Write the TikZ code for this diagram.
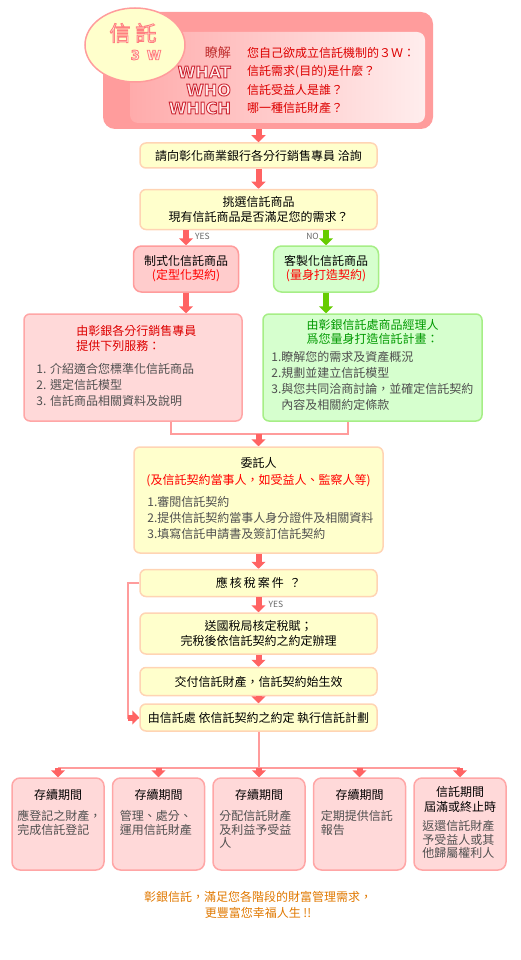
\documentclass[tikz,border=0pt]{standalone}
\usepackage{fontspec}
\setmainfont{Noto Sans CJK TC}
\newfontfamily\wordfont{DejaVu Sans}
\usepackage{xcolor}
\usetikzlibrary{arrows.meta, positioning, shapes.geometric, calc}
\definecolor{salmon}{HTML}{FF9C9C}
\definecolor{panelleft}{HTML}{FFABAB}
\definecolor{panelright}{HTML}{FFEDED}
\definecolor{rosefill}{HTML}{FFD9D9}
\definecolor{rosesolid}{HTML}{FFCCCC}
\definecolor{roseline}{HTML}{FFA6A6}
\definecolor{creamfill}{HTML}{FFFFCC}
\definecolor{creamline}{HTML}{FFD4B4}
\definecolor{mintfill}{HTML}{D6FFCE}
\definecolor{mintline}{HTML}{A6EE86}
\definecolor{arrowred}{HTML}{FF6363}
\definecolor{arrowgreen}{HTML}{66CC00}
\definecolor{textgray}{HTML}{505050}
\definecolor{tagray}{HTML}{666666}
\definecolor{alertred}{HTML}{FF0000}
\definecolor{headred}{HTML}{DD0000}
\definecolor{keyred}{HTML}{C03030}
\definecolor{headgreen}{HTML}{009900}
\definecolor{footorange}{HTML}{E07800}
% hollow (outlined) lettering: fill colour, stroke colour, text
\newcommand{\hollowtext}[3]{\special{pdf:literal direct #1 rg #2 RG 2 Tr 0.9 w}#3\special{pdf:literal direct 0 Tr}}
\tikzset{
  font=\fontsize{12}{14.5}\selectfont,
  baseblock/.style={
    rectangle, rounded corners=6pt, line width=1.5pt,
    inner sep=2pt, align=center
  },
  creambox/.style={baseblock, draw=creamline, fill=creamfill, minimum width=237pt},
  rosebox/.style={baseblock, draw=roseline, fill=rosefill},
  mintbox/.style={baseblock, draw=mintline, fill=mintfill},
  w3box/.style={rectangle, rounded corners=12pt, fill=salmon, inner sep=0pt,
    minimum width=330pt, minimum height=117pt},
  w3inner/.style={rectangle, rounded corners=8pt, left color=panelleft, right color=panelright,
    inner sep=0pt, minimum width=295pt, minimum height=91pt},
  badge/.style={ellipse, draw=salmon, fill=creamfill, line width=1.5pt, inner sep=0pt,
    minimum width=100pt, minimum height=74pt},
  w3word/.style={inner sep=0pt, font=\wordfont\bfseries\fontsize{16}{16}\selectfont},
  w3key/.style={inner sep=0pt, text=keyred, font=\fontsize{13}{14}\selectfont},
  w3ask/.style={inner sep=0pt, text=headred},
  listtext/.style={inner sep=0pt, align=left, text=textgray, font=\fontsize{12}{16}\selectfont},
  boxtitle/.style={inner sep=0pt, align=center},
  bodytext/.style={inner sep=0pt, align=left, text=textgray, font=\fontsize{12}{13.5}\selectfont},
  tag/.style={inner sep=0pt, text=tagray, font=\fontsize{8.5}{10}\selectfont},
  fatarrow/.style={draw=arrowred, line width=6pt, -{Triangle[length=7pt, width=14pt]}},
  greenarrow/.style={fatarrow, draw=arrowgreen},
  joinline/.style={draw=salmon, line width=2pt}
}
\begin{document}
\begin{tikzpicture}[x=1pt, y=-1pt]
  \useasboundingbox (0,0) rectangle (520,960);

  % Header: the 3W panel
  \node[w3box] (w3) at (268,70.5) {};
  \node[w3inner] (w3panel) at (277.5,77.5) {};
  \node[badge] (badge) at (135,45) {};
  \node[inner sep=0pt, font=\fontsize{21}{21}\selectfont] (badgetrust) at (133,33)
    {\hollowtext{1 0.96 0.9}{1 0.5 0.5}{信\hspace{5pt}託}};
  \node[inner sep=0pt, font=\wordfont\bfseries\fontsize{13}{13}\selectfont] (badgew) at (146,55)
    {\hollowtext{1 0.96 0.9}{1 0.5 0.5}{3\hspace{7pt}W}};

  \node[w3key, anchor=east] (knowkey) at (231,53) {瞭解};
  \node[w3word, anchor=east] (whatkey) at (231,72) {\hollowtext{1 0.93 0.93}{0.8 0.15 0.2}{WHAT}};
  \node[w3word, anchor=east] (whokey) at (231,90) {\hollowtext{1 0.93 0.93}{0.8 0.15 0.2}{WHO}};
  \node[w3word, anchor=east] (whichkey) at (231,108) {\hollowtext{1 0.93 0.93}{0.8 0.15 0.2}{WHICH}};
  \node[w3ask, anchor=west] (knowtext) at (247,53) {您自己欲成立信託機制的３Ｗ：};
  \node[w3ask, anchor=west] (whattext) at (247,72) {信託需求(目的)是什麼？};
  \node[w3ask, anchor=west] (whotext) at (247,90) {信託受益人是誰？};
  \node[w3ask, anchor=west] (whichtext) at (247,108) {哪一種信託財產？};

  % Consult and choose
  \node[creambox, minimum height=25pt] (ask) at (258.5,155.5) {請向彰化商業銀行各分行銷售專員 洽詢};
  \node[creambox, minimum height=40pt, below=20pt of ask] (pick) {挑選信託商品\\現有信託商品是否滿足您的需求？};

  % Standard / custom products
  \node[baseblock, draw=salmon, fill=rosesolid, rounded corners=8pt, minimum width=105pt, minimum height=46pt,
    font=\fontsize{12}{14}\selectfont] (std) at (186,269)
    {制式化信託商品\\\textcolor{alertred}{(定型化契約)}};
  \node[mintbox, rounded corners=8pt, minimum width=105pt, minimum height=46pt,
    font=\fontsize{12}{14}\selectfont] (cust) at (326,269)
    {客製化信託商品\\\textcolor{alertred}{(量身打造契約)}};
  \node[tag, anchor=west] (yesstd) at ([xshift=9pt, yshift=9pt]std.north) {YES};
  \node[tag, anchor=east] (nocust) at ([xshift=-7pt, yshift=9pt]cust.north) {NO};

  % Services of each route
  \node[rosebox, minimum width=218pt, minimum height=107pt] (stdsvc) at (133,367.5) {};
  \node[boxtitle, align=left, text=headred, anchor=north west, font=\fontsize{12}{15}\selectfont] (stdhead)
    at ([xshift=53pt, yshift=-12pt]stdsvc.north west) {由彰銀各分行銷售專員\\提供下列服務：};
  \node[listtext, anchor=north west] (stdlist) at ([xshift=13pt, yshift=-50pt]stdsvc.north west)
    {1. 介紹適合您標準化信託商品\\2. 選定信託模型\\3. 信託商品相關資料及說明};

  \node[mintbox, minimum width=219pt, minimum height=107pt] (custsvc) at (372.5,367.5) {};
  \node[boxtitle, text=headgreen, anchor=north, font=\fontsize{12}{13.5}\selectfont] (custhead)
    at ([yshift=-6pt]custsvc.north) {由彰銀信託處商品經理人\\爲您量身打造信託計畫：};
  \node[listtext, anchor=north west] (custlist) at ([xshift=9pt, yshift=-38pt]custsvc.north west)
    {1.瞭解您的需求及資產概況\\2.規劃並建立信託模型\\3.與您共同洽商討論，並確定信託契約\\\phantom{3.}內容及相關約定條款};

  % Trustor
  \node[creambox, minimum width=249pt, minimum height=106pt] (trustor) at (258.5,500) {};
  \node[boxtitle, anchor=north, font=\fontsize{12}{17}\selectfont] (trustorhead) at ([yshift=-11pt]trustor.north)
    {委託人\\\textcolor{alertred}{(及信託契約當事人，如受益人、監察人等)}};
  \node[listtext, anchor=north west] (trustorlist) at ([xshift=14pt, yshift=-50pt]trustor.north west)
    {1.審閱信託契約\\2.提供信託契約當事人身分證件及相關資料\\3.填寫信託申請書及簽訂信託契約};

  % Tax and execution
  \node[creambox, minimum height=27pt, below=15pt of trustor] (tax) {應\,核\,稅\,案\,件\ \ ？};
  \node[creambox, minimum height=41pt, below=15pt of tax] (taxoffice) {送國稅局核定稅賦；\\完稅後依信託契約之約定辦理};
  \node[creambox, minimum height=28pt, below=12pt of taxoffice] (deliver) {交付信託財產，信託契約始生效};
  \node[creambox, minimum height=27pt, below=7pt of deliver] (exec) {由信託處 依信託契約之約定 執行信託計劃};
  \node[tag, anchor=west] (yestax) at ([xshift=10pt, yshift=-7.5pt]tax.south) {YES};

  % Trust period boxes
  \node[rosebox, minimum width=92pt, minimum height=92pt, rounded corners=8pt] (p1) at (58,824) {};
  \node[rosebox, minimum width=92pt, minimum height=92pt, rounded corners=8pt, right=7pt of p1] (p2) {};
  \node[rosebox, minimum width=92pt, minimum height=92pt, rounded corners=8pt, right=7pt of p2] (p3) {};
  \node[rosebox, minimum width=92pt, minimum height=92pt, rounded corners=8pt, right=7pt of p3] (p4) {};
  \node[rosebox, minimum width=92pt, minimum height=92pt, rounded corners=8pt, right=7pt of p4] (p5) {};

  \node[boxtitle, anchor=north] (p1head) at ([yshift=-12pt]p1.north) {存續期間};
  \node[boxtitle, anchor=north] (p2head) at ([yshift=-12pt]p2.north) {存續期間};
  \node[boxtitle, anchor=north] (p3head) at ([yshift=-12pt]p3.north) {存續期間};
  \node[boxtitle, anchor=north] (p4head) at ([yshift=-12pt]p4.north) {存續期間};
  \node[boxtitle, anchor=north, font=\fontsize{12}{15}\selectfont] (p5head) at ([yshift=-9pt]p5.north)
    {信託期間\\屆滿或終止時};
  \node[bodytext, anchor=north west] (p1body) at ([xshift=6pt, yshift=-33pt]p1.north west) {應登記之財產，\\完成信託登記};
  \node[bodytext, anchor=north west] (p2body) at ([xshift=8pt, yshift=-33pt]p2.north west) {管理、處分、\\運用信託財產};
  \node[bodytext, anchor=north west] (p3body) at ([xshift=7pt, yshift=-33pt]p3.north west) {分配信託財產\\及利益予受益\\人};
  \node[bodytext, anchor=north west] (p4body) at ([xshift=8pt, yshift=-33pt]p4.north west) {定期提供信託\\報告};
  \node[bodytext, anchor=north west] (p5body) at ([xshift=9pt, yshift=-43pt]p5.north west) {返還信託財產\\予受益人或其\\他歸屬權利人};

  % Closing line
  \node[boxtitle, text=footorange, font=\fontsize{12}{16}\selectfont] (motto) at (258,905)
    {彰銀信託，滿足您各階段的財富管理需求，\\更豐富您幸福人生 !!};

  % Connectors
  \coordinate (svcjoin) at ($(trustor.north)+(0,-12)$);
  \coordinate (fan) at ($(exec.south)+(0,36)$);

  \draw[fatarrow] (w3.south -| ask.north) -- (ask.north);
  \draw[fatarrow] (ask) -- (pick);
  \draw[fatarrow] (pick.south -| std.north) -- (std.north);
  \draw[greenarrow] (pick.south -| cust.north) -- (cust.north);
  \draw[fatarrow] (std) -- (std.south |- stdsvc.north);
  \draw[greenarrow] (cust) -- (cust.south |- custsvc.north);
  \draw[joinline] ([xshift=38pt]stdsvc.south) |- (svcjoin) -| ([xshift=-25pt]custsvc.south);
  \draw[fatarrow] (svcjoin) -- (trustor.north);
  \draw[fatarrow] (trustor) -- (tax);
  \draw[fatarrow] (tax) -- (taxoffice);
  \draw[fatarrow] (taxoffice) -- (deliver);
  \draw[fatarrow] (deliver) -- (exec);
  \draw[joinline] (tax.west) -- ++(-11,0) coordinate (taxturn) |- (exec.west);
  \draw[fatarrow] (taxturn |- exec.west) -- (exec.west);
  \draw[joinline] (exec.south) -- (fan);
  \draw[joinline] (fan -| p1.north) -- (fan -| p5.north);
  \draw[fatarrow] (fan -| p1.north) -- (p1.north);
  \draw[fatarrow] (fan -| p2.north) -- (p2.north);
  \draw[fatarrow] (fan -| p3.north) -- (p3.north);
  \draw[fatarrow] (fan -| p4.north) -- (p4.north);
  \draw[fatarrow] (fan -| p5.north) -- (p5.north);

\end{tikzpicture}
\end{document}
